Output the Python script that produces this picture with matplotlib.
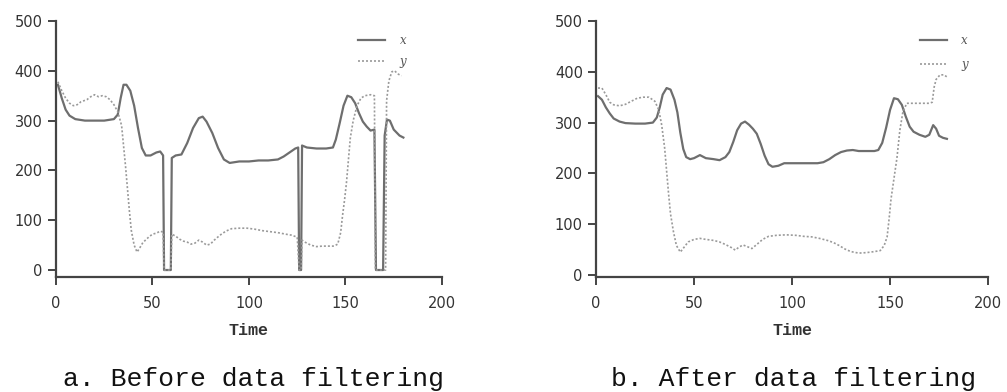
import numpy as np
import matplotlib
matplotlib.use("Agg")
import matplotlib.pyplot as plt

# ---- data ----
# a. before filtering (dropouts to 0 kept)
t_before_x = [1, 3, 5, 7, 10, 15, 20, 25, 30, 32, 33.5, 35, 36.5, 38.5, 40.5, 42.5, 44.5, 46.5, 49, 52, 54, 55.5,
              56, 59.5, 60, 62, 65, 68, 71, 74, 76, 78, 81, 84, 87, 90, 95, 100, 105, 110, 115, 118, 121, 124, 125.5,
              126, 127, 127.5, 130, 135, 140, 143.5, 145, 147, 149, 151, 153, 155, 157, 159, 161, 163, 165,
              165.8, 169.5, 170.3, 171.5, 173, 175, 178, 180]
v_before_x = [372, 345, 322, 310, 303, 300, 300, 300, 303, 312, 345, 372, 372, 360, 330, 285, 245, 230, 230, 236, 238, 230,
              0, 0, 225, 230, 232, 255, 285, 305, 308, 298, 275, 245, 222, 215, 218, 218, 220, 220, 222, 228, 236, 244, 246,
              0, 0, 250, 246, 244, 244, 246, 262, 295, 330, 350, 347, 335, 315, 298, 288, 280, 282,
              0, 0, 270, 302, 300, 282, 270, 266]

t_before_y = [1, 3, 5, 7, 9, 11, 13, 16, 18, 20, 22, 24, 26, 28, 30, 32, 34, 35, 36, 37, 38, 39, 40.5, 42, 43.5, 45,
              48, 50, 52, 54, 55.5, 56, 59.5, 60, 62, 64, 66, 68, 70, 72, 74, 76, 78, 80, 82, 85, 88, 91, 95, 99, 103,
              107, 111, 115, 119, 122, 125, 126, 127, 127.5, 129, 132, 135, 138, 141, 144, 146, 147.5, 148.5, 149.5,
              150.5, 151.5, 152.5, 154, 156, 158, 160, 163, 165, 165.5, 170.8, 171.3, 172.5, 174, 175.5, 177, 179]
v_before_y = [378, 360, 345, 335, 330, 332, 338, 342, 348, 352, 348, 350, 348, 342, 332, 318, 290, 250, 210, 165, 120, 80,
              50, 36, 45, 55, 66, 72, 74, 78, 76, 0, 0, 72, 68, 62, 58, 56, 52, 54, 60, 56, 50, 52, 60, 70, 78, 83, 84,
              84, 82, 79, 77, 75, 72, 70, 66, 0, 0, 60, 56, 50, 47, 48, 48, 48, 52, 75, 110, 140, 175, 220, 265, 300,
              330, 345, 350, 352, 350, 0, 0, 340, 380, 398, 400, 394, 390]

# b. after filtering
t_after_x = [1, 3, 5, 7, 9, 12, 15, 20, 25, 29, 31, 32.5, 34, 36, 38, 40, 41.5, 43, 44.5, 46, 48, 50, 53, 56, 60, 63,
             66, 68, 70, 72, 74, 76, 78, 80, 82, 84, 86, 88, 90, 93, 96, 100, 105, 110, 113, 116, 119, 122, 125, 128,
             131, 134, 138, 142, 144, 146, 148, 150, 152, 154, 156, 158, 160, 162, 165, 168, 170, 172, 173.5, 175,
             177, 179]
v_after_x = [352, 345, 330, 318, 308, 302, 299, 298, 298, 300, 310, 330, 355, 368, 365, 345, 320, 280, 248, 232, 228,
             230, 236, 230, 228, 226, 232, 242, 262, 285, 298, 302, 296, 288, 278, 258, 235, 218, 213, 215, 220, 220,
             220, 220, 220, 222, 228, 236, 242, 245, 246, 244, 244, 244, 246, 260, 290, 325, 348, 346, 335, 312, 292,
             282, 276, 272, 276, 295, 288, 274, 270, 268]

t_after_y = [1, 3, 5, 7, 9, 12, 15, 18, 21, 24, 27, 30, 32, 33.5, 35, 36, 37, 38, 39.5, 41, 43, 45, 47, 50, 53, 56,
             60, 63, 66, 69, 71, 73, 75, 77, 79.5, 82, 85, 88, 92, 97, 102, 106, 110, 114, 118, 121, 124, 127, 130,
             134, 138, 142, 145, 147, 148.5, 149.5, 150.5, 152, 153.5, 155, 156.5, 158.5, 162, 166, 170, 171.5,
             172.5, 173.5, 175.5, 177.5, 179]
v_after_y = [368, 368, 355, 340, 335, 333, 336, 342, 348, 350, 350, 342, 325, 295, 250, 205, 160, 120, 85, 58, 45, 55,
             65, 70, 72, 70, 68, 65, 60, 54, 49, 55, 59, 56, 52, 60, 70, 76, 78, 79, 78, 76, 75, 72, 68, 64, 58, 51,
             46, 43, 44, 46, 48, 58, 75, 110, 150, 190, 230, 285, 320, 338, 338, 338, 338, 340, 370, 385, 394, 394, 390]

x_ticks = [0, 50, 100, 150, 200]
y_ticks = [0, 100, 200, 300, 400, 500]
subtitles = ["a. Before data filtering", "b. After data filtering"]

fig = plt.figure(figsize=(10.07, 3.92), dpi=100)
axes = [fig.add_axes([0.0556, 0.2934, 0.3833, 0.653]),
        fig.add_axes([0.5919, 0.2934, 0.3893, 0.653])]
data = [(t_before_x, v_before_x, t_before_y, v_before_y),
        (t_after_x, v_after_x, t_after_y, v_after_y)]
ylows = [-14, -4]
leg_anchor = [(0.935, 0.99), (0.975, 0.99)]
leg_space = [0.7, 0.95]

for i, ax in enumerate(axes):
    tx, vx, ty, vy = data[i]
    ax.plot(tx, vx, color="#6e6e6e", lw=1.6, label="x")
    ax.plot(ty, vy, color="#9a9a9a", lw=1.2, ls=(0, (1.2, 1.2)), label="y")
    ax.set_xlim(0, 200)
    ax.set_ylim(ylows[i], 500)
    ax.set_xticks(x_ticks)
    ax.set_yticks(y_ticks)
    for s in ["top", "right"]:
        ax.spines[s].set_visible(False)
    for s in ["left", "bottom"]:
        ax.spines[s].set_linewidth(1.6)
        ax.spines[s].set_color("#444444")
    ax.tick_params(direction="out", length=6, width=1.4, color="#444444",
                   labelsize=10.5, labelcolor="#333333")
    ax.tick_params(axis="x", pad=8)
    ax.set_xlabel("Time", family="Liberation Mono", fontsize=12, fontweight="bold",
                  color="#333333", labelpad=8)
    leg = ax.legend(loc="upper right", bbox_to_anchor=leg_anchor[i], frameon=False,
                    handlelength=2.3, handletextpad=1.2, labelspacing=leg_space[i],
                    prop={"family": "DejaVu Serif", "style": "italic", "size": 8.5})
    for txt in leg.get_texts():
        txt.set_color("#555555")
    fig.text([0.252, 0.788][i], 0.033, subtitles[i], family="Liberation Mono",
             fontsize=19, ha="center", va="center", color="#111111")

fig.savefig("out.png", dpi=100)
